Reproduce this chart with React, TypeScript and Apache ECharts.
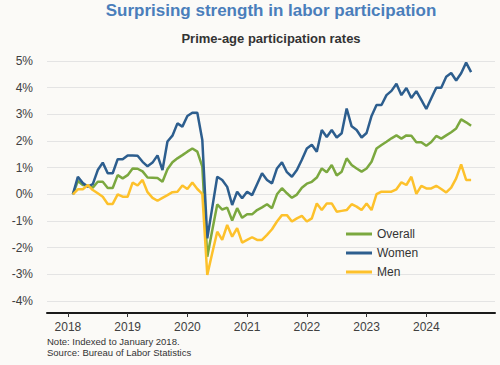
import React, { useEffect, useRef } from "react";
import * as echarts from "echarts";

// Monthly observations, Jan 2018 .. Sep 2024 (percent change vs. January 2018)
const startYear = 2018;
const yearTicks = [2018, 2019, 2020, 2021, 2022, 2023, 2024];

const overall = [0, 0.5, 0.35, 0.33, 0.25, 0.47, 0.47, 0.24, 0.24, 0.72, 0.6, 0.72, 0.97, 0.96, 0.86, 0.63, 0.62, 0.61, 0.47, 0.94, 1.2, 1.35, 1.47, 1.6, 1.72, 1.6, 1.04, -2.34, -1.35, -0.38, -0.57, -0.5, -0.98, -0.52, -0.88, -0.75, -0.75, -0.59, -0.49, -0.37, -0.52, 0.0, 0.23, 0.04, -0.13, -0.01, 0.25, 0.4, 0.47, 0.63, 0.97, 0.83, 1.1, 0.71, 0.85, 1.35, 1.1, 0.97, 0.85, 0.97, 1.22, 1.72, 1.85, 1.97, 2.1, 2.21, 2.09, 2.21, 2.2, 1.95, 1.95, 1.82, 1.96, 2.19, 2.09, 2.21, 2.33, 2.47, 2.81, 2.7, 2.57];

const women = [0, 0.66, 0.42, 0.29, 0.38, 0.91, 1.19, 0.79, 0.79, 1.32, 1.32, 1.46, 1.46, 1.45, 1.22, 1.05, 1.19, 1.46, 0.91, 1.98, 2.2, 2.66, 2.54, 2.94, 3.06, 3.06, 2.04, -1.65, -0.5, 0.66, 0.54, 0.28, -0.4, 0.1, -0.15, 0.1, -0.03, 0.38, 0.79, 0.54, 0.41, 0.97, 1.2, 0.83, 0.66, 0.91, 1.3, 1.72, 1.86, 1.6, 2.41, 2.15, 2.41, 2.13, 2.29, 3.22, 2.55, 2.41, 2.13, 2.3, 2.94, 3.35, 3.35, 3.72, 3.88, 4.15, 3.72, 3.99, 3.61, 3.87, 3.54, 3.2, 3.6, 4.0, 4.0, 4.41, 4.55, 4.27, 4.54, 4.94, 4.58];

const men = [0, 0.19, 0.19, 0.35, 0.16, 0.04, -0.09, -0.36, -0.36, 0, -0.09, -0.09, 0.44, 0.33, 0.54, 0.08, -0.13, -0.24, -0.13, -0.03, 0.08, 0.1, 0.33, 0.2, 0.44, 0.2, 0.02, -3.02, -2.2, -1.4, -1.71, -1.15, -1.59, -1.27, -1.81, -1.71, -1.61, -1.71, -1.71, -1.52, -1.31, -1.02, -0.78, -0.78, -1.02, -0.9, -0.81, -1.02, -0.9, -0.34, -0.59, -0.34, -0.34, -0.65, -0.62, -0.59, -0.37, -0.46, -0.59, -0.34, -0.59, 0.01, 0.1, 0.1, 0.1, 0.19, 0.45, 0.35, 0.66, 0.02, 0.32, 0.22, 0.22, 0.32, 0.2, 0.07, 0.25, 0.6, 1.12, 0.54, 0.54];

const seriesNames = ["Overall", "Women", "Men"];
const seriesColors = ["#7BA83F", "#2D5E8E", "#FDC12B"];

const FONT = "'Liberation Sans', Arial, Helvetica, sans-serif";
const BG = "#FBFAF7";

// each observation placed at the end of its month
const toPairs = (vals: number[]) =>
  vals.map((v, i) => [startYear + (i + 1) / 12, v]);

export default function App() {
  const ref = useRef<HTMLDivElement>(null);

  useEffect(() => {
    if (!ref.current) return;
    const chart = echarts.init(ref.current, undefined, { renderer: "svg" });
    const plotCenter = 271;
    chart.setOption({
      animation: false,
      backgroundColor: BG,
      textStyle: { fontFamily: FONT },
      graphic: [
        {
          type: "text",
          x: plotCenter,
          y: 10,
          style: {
            text: "Surprising strength in labor participation",
            align: "center",
            verticalAlign: "middle",
            font: `bold 17px ${FONT}`,
            fill: "#4A7EBB",
          },
        },
        {
          type: "text",
          x: plotCenter,
          y: 38,
          style: {
            text: "Prime-age participation rates",
            align: "center",
            verticalAlign: "middle",
            font: `bold 13px ${FONT}`,
            fill: "#333333",
          },
        },
        {
          type: "text",
          x: 47,
          y: 341,
          style: {
            text: "Note: Indexed to January 2018.",
            align: "left",
            verticalAlign: "middle",
            font: `9.5px ${FONT}`,
            fill: "#333333",
          },
        },
        {
          type: "text",
          x: 47,
          y: 352,
          style: {
            text: "Source: Bureau of Labor Statistics",
            align: "left",
            verticalAlign: "middle",
            font: `9.5px ${FONT}`,
            fill: "#333333",
          },
        },
      ],
      legend: {
        data: seriesNames,
        orient: "vertical",
        left: 341,
        top: 223,
        itemWidth: 26,
        itemHeight: 12,
        itemGap: 7,
        icon: "path://M0,0 L26,0 L26,3 L0,3 Z",
        textStyle: { fontSize: 12, color: "#333333", fontFamily: FONT },
      },
      grid: { left: 47, right: 5, top: 61, height: 240, containLabel: false },
      xAxis: {
        type: "value",
        min: 2017.65,
        max: 2025.15,
        offset: 12,
        splitLine: { show: false },
        axisLine: { show: true, onZero: false, lineStyle: { color: "#1a1a1a", width: 2 } },
        axisTick: {
          show: true,
          length: 4,
          customValues: yearTicks,
          lineStyle: { color: "#333333", width: 1 },
        },
        axisLabel: {
          customValues: yearTicks,
          formatter: (v: number) => String(Math.round(v)),
          fontSize: 12,
          color: "#404040",
          margin: 8,
          fontFamily: FONT,
        },
      },
      yAxis: {
        type: "value",
        min: -4,
        max: 5,
        interval: 1,
        axisLine: { show: false },
        axisTick: { show: false },
        splitLine: { show: true, lineStyle: { color: "#E4E4E4", width: 1 } },
        axisLabel: {
          formatter: (v: number) => `${v}%`,
          fontSize: 12,
          color: "#404040",
          margin: 14,
          fontFamily: FONT,
        },
      },
      series: [overall, women, men].map((vals, k) => ({
        name: seriesNames[k],
        type: "line",
        data: toPairs(vals),
        symbol: "none",
        showSymbol: false,
        color: seriesColors[k],
        itemStyle: { color: seriesColors[k] },
        lineStyle: { width: 2.5, color: seriesColors[k] },
        z: 2 + k,
      })),
    });
    return () => chart.dispose();
  }, []);

  return (
    <div
      ref={ref}
      style={{
        position: "fixed",
        left: 0,
        top: 0,
        width: 500,
        height: 365,
        background: BG,
      }}
    />
  );
}
